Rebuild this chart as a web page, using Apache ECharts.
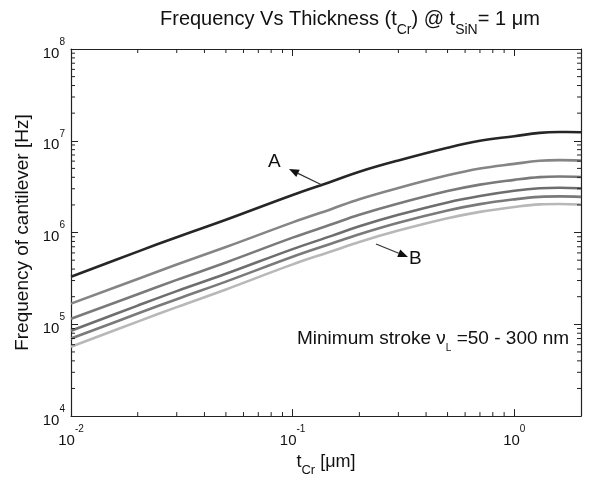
<!DOCTYPE html>
<html>
<head>
<meta charset="utf-8">
<script src="https://cdn.jsdelivr.net/npm/echarts@6/dist/echarts.min.js"></script>
<style>html,body{margin:0;padding:0;background:#fff}#c{width:616px;height:482px}</style>
</head>
<body>
<div id="c"></div>
<script>
// ---- data ----
const thickness = [0.01, 0.02, 0.03, 0.05, 0.1, 0.15, 0.2, 0.3, 0.5, 0.7, 1.0, 1.3, 1.6, 2.0];
const curveA  = [3.3e5, 6.2e5, 8.9e5, 1.38e6, 2.57e6, 3.6e6, 4.6e6, 6.1e6, 8.4e6, 1.0e7, 1.12e7, 1.22e7, 1.245e7, 1.24e7];
const curve2  = [1.68e5, 3.12e5, 4.48e5, 6.95e5, 1.29e6, 1.81e6, 2.31e6, 3.06e6, 4.2e6, 4.98e6, 5.6e6, 6.05e6, 6.15e6, 6.1e6];
const curve3  = [1.15e5, 2.13e5, 3.05e5, 4.72e5, 8.8e5, 1.23e6, 1.56e6, 2.07e6, 2.83e6, 3.33e6, 3.75e6, 4.02e6, 4.08e6, 4.03e6];
const curve4  = [8.5e4, 1.6e5, 2.3e5, 3.55e5, 6.6e5, 9.2e5, 1.17e6, 1.56e6, 2.13e6, 2.5e6, 2.85e6, 3.04e6, 3.08e6, 3.04e6];
const curve5  = [7.0e4, 1.31e5, 1.88e5, 2.92e5, 5.45e5, 7.6e5, 9.6e5, 1.28e6, 1.74e6, 2.04e6, 2.3e6, 2.45e6, 2.48e6, 2.45e6];
const curveB  = [5.7e4, 1.07e5, 1.54e5, 2.4e5, 4.5e5, 6.25e5, 7.9e5, 1.05e6, 1.43e6, 1.68e6, 1.9e6, 2.03e6, 2.05e6, 2.02e6];
const seriesList = [curveA, curve2, curve3, curve4, curve5, curveB];
const seriesColors = ['#262626', '#858585', '#7a7a7a', '#6e6e6e', '#7a7a7a', '#b8b8b8'];

const xRange = [0.01, 2];
const yRange = [1e4, 1e8];
const xDecades = [0.01, 0.1, 1];
const yDecades = [1e4, 1e5, 1e6, 1e7];
const minorMultipliers = [2, 3, 4, 5, 6, 7, 8, 9];

const titleParts = ['Frequency Vs Thickness (t', 'Cr', ') @ t', 'SiN', '= 1 \u03bcm'];
const yName = 'Frequency of cantilever [Hz]';
const xNameParts = ['t', 'Cr', ' [\u03bcm]'];
const noteParts = ['Minimum stroke \u03bd', 'L', ' =50 - 300 nm'];

// ---- build ----
const FONT = 'Liberation Sans, Arial, Helvetica, sans-serif';
function pow10Label(v) {
  const e = Math.round(Math.log10(v));
  if (Math.abs(v - Math.pow(10, e)) > 1e-6 * v) return '';
  return '{b|10}{s|' + e + '}';
}
const tickRich = {
  b: { fontSize: 15, fontFamily: FONT, color: '#111', lineHeight: 24, verticalAlign: 'bottom' },
  s: { fontSize: 10, fontFamily: FONT, color: '#111', lineHeight: 12, verticalAlign: 'top' }
};

const minorData = [];
xDecades.forEach(d => minorMultipliers.forEach(m => {
  const v = d * m; if (v < xRange[1] - 1e-9) minorData.push([v, yRange[0], 0]);
}));
yDecades.forEach(d => minorMultipliers.forEach(m => {
  const v = d * m; if (v < yRange[1]) minorData.push([xRange[0], v, 1]);
}));

const lineSeries = seriesList.map((arr, i) => ({
  type: 'line',
  data: thickness.map((t, j) => [t, arr[j]]),
  smooth: 0.4,
  showSymbol: false,
  symbol: 'none',
  lineStyle: { color: seriesColors[i], width: 2.6 },
  z: 3 + (6 - i)
}));

const chart = echarts.init(document.getElementById('c'), null, { renderer: 'canvas' });

const axisCommon = {
  type: 'log', logBase: 10,
  axisLine: { show: true, lineStyle: { color: '#222', width: 1.2 } },
  axisTick: { show: true, inside: true, length: 7, lineStyle: { color: '#222', width: 1 } },
  splitLine: { show: false },
  minorTick: { show: false }
};

chart.setOption({
  animation: false,
  backgroundColor: '#fff',
  title: {
    text: '{t|' + titleParts[0] + '}{u|' + titleParts[1] + '}{t|' + titleParts[2] + '}{u|' + titleParts[3] + '}{t|' + titleParts[4] + '}',
    left: 155, top: 4,
    textStyle: {
      fontWeight: 'normal',
      rich: {
        t: { fontSize: 20, fontWeight: 'normal', fontFamily: FONT, color: '#111', lineHeight: 28, verticalAlign: 'top' },
        u: { fontSize: 14, fontWeight: 'normal', fontFamily: FONT, color: '#111', lineHeight: 28, verticalAlign: 'bottom', padding: [13, 0, 0, 0] }
      }
    }
  },
  grid: { left: 71, right: 35, top: 49, bottom: 58, containLabel: false },
  xAxis: [
    Object.assign({}, axisCommon, {
      min: xRange[0], max: xRange[1], position: 'bottom',
      axisLabel: { show: true, margin: 8, formatter: pow10Label, rich: tickRich, showMaxLabel: false },
      name: '{a|' + xNameParts[0] + '}{u|' + xNameParts[1] + '}{a|' + xNameParts[2] + '}',
      nameLocation: 'middle', nameGap: 28,
      nameTextStyle: {
        rich: {
          a: { fontSize: 18, fontFamily: FONT, color: '#111', lineHeight: 24, verticalAlign: 'top' },
          u: { fontSize: 13, fontFamily: FONT, color: '#111', lineHeight: 24, verticalAlign: 'bottom', padding: [10, 0, 0, 0] }
        }
      }
    }),
    Object.assign({}, axisCommon, {
      min: xRange[0], max: xRange[1], position: 'top', axisLabel: { show: false }
    })
  ],
  yAxis: [
    Object.assign({}, axisCommon, {
      min: yRange[0], max: yRange[1], position: 'left',
      axisLabel: { show: true, margin: 6, formatter: pow10Label, rich: tickRich },
      name: yName, nameLocation: 'middle', nameGap: 27, nameRotate: 90,
      nameTextStyle: { fontSize: 19, fontFamily: FONT, color: '#111' }
    }),
    Object.assign({}, axisCommon, {
      min: yRange[0], max: yRange[1], position: 'right', axisLabel: { show: false }
    })
  ],
  series: lineSeries.concat([{
    type: 'custom',
    coordinateSystem: 'cartesian2d',
    data: minorData,
    encode: { x: 0, y: 1 },
    silent: true,
    clip: false,
    z: 10,
    renderItem: function (params, api) {
      const kind = api.value(2);
      const len = 4;
      const style = { stroke: '#222', lineWidth: 1 };
      if (kind === 0) {
        const v = api.value(0);
        const p1 = api.coord([v, yRange[0]]);
        const p2 = api.coord([v, yRange[1]]);
        return { type: 'group', children: [
          { type: 'line', shape: { x1: p1[0], y1: p1[1], x2: p1[0], y2: p1[1] - len }, style: style },
          { type: 'line', shape: { x1: p2[0], y1: p2[1], x2: p2[0], y2: p2[1] + len }, style: style }
        ]};
      } else {
        const v = api.value(1);
        const p1 = api.coord([xRange[0], v]);
        const p2 = api.coord([xRange[1], v]);
        return { type: 'group', children: [
          { type: 'line', shape: { x1: p1[0], y1: p1[1], x2: p1[0] + len, y2: p1[1] }, style: style },
          { type: 'line', shape: { x1: p2[0], y1: p2[1], x2: p2[0] - len, y2: p2[1] }, style: style }
        ]};
      }
    }
  }])
});

function arrow(x1, y1, x2, y2) {
  const ang = Math.atan2(y2 - y1, x2 - x1);
  const L = 10, W = 4;
  const bx = x2 - L * Math.cos(ang), by = y2 - L * Math.sin(ang);
  const nx = -Math.sin(ang) * W, ny = Math.cos(ang) * W;
  return [
    { type: 'line', shape: { x1: x1, y1: y1, x2: bx, y2: by }, style: { stroke: '#333', lineWidth: 1.2 }, z: 20 },
    { type: 'polygon', shape: { points: [[x2, y2], [bx + nx, by + ny], [bx - nx, by - ny]] }, style: { fill: '#111' }, z: 20 }
  ];
}

chart.setOption({
  graphic: [].concat(
    arrow(322, 185, 289, 169),
    arrow(376, 244, 408, 257),
    [
      { type: 'text', left: 268, top: 152, style: { text: 'A', font: '19px ' + FONT, fill: '#111' }, z: 20 },
      { type: 'text', left: 409, top: 249, style: { text: 'B', font: '19px ' + FONT, fill: '#111' }, z: 20 },
      { type: 'text', left: 297, top: 329, z: 20, style: {
          text: '{a|' + noteParts[0] + '}{u|' + noteParts[1] + '}{a|' + noteParts[2] + '}',
          rich: {
            a: { fontSize: 19, fontFamily: FONT, fill: '#111', lineHeight: 24, verticalAlign: 'top' },
            u: { fontSize: 10, fontFamily: FONT, fill: '#111', lineHeight: 24, verticalAlign: 'bottom', padding: [10, 0, 0, 0] }
          }
      } }
    ]
  )
});
</script>
</body>
</html>
